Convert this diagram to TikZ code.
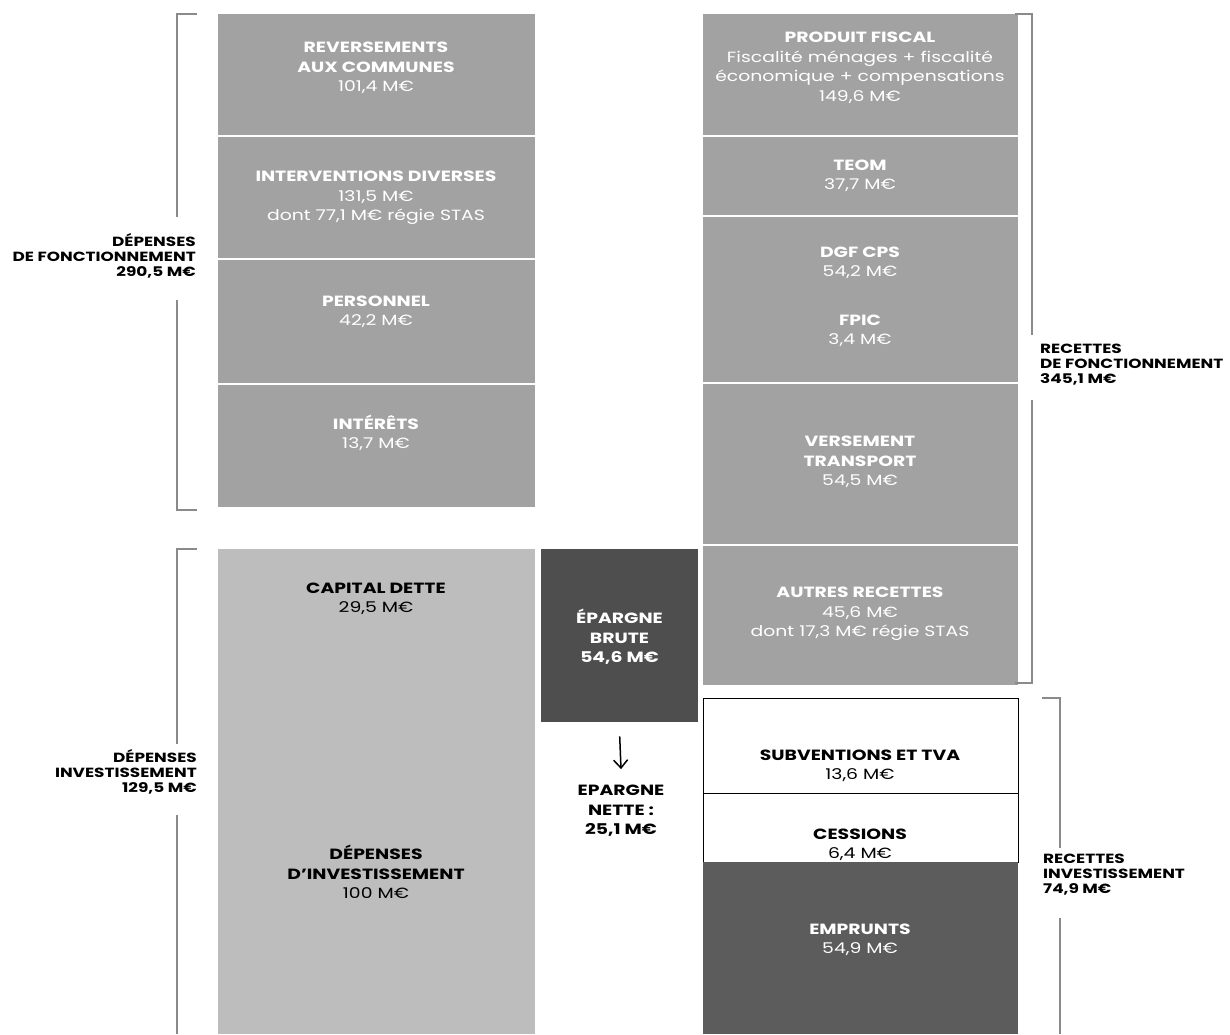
\documentclass[tikz,border=0pt]{standalone}
\usepackage{fontspec}
\setmainfont{Poppins}[FakeStretch=1.27]
\usetikzlibrary{arrows.meta}
\definecolor{gfonc}{HTML}{A2A2A2}
\definecolor{ginv}{HTML}{BDBDBD}
\definecolor{gdark}{HTML}{4E4E4E}
\definecolor{gemp}{HTML}{5C5C5C}
\definecolor{gbrk}{HTML}{8A8A8A}
\begin{document}
\begin{tikzpicture}[x=1pt,y=-1pt,
  blk/.style={draw=none,inner sep=0pt,anchor=north west},
  wbox/.style={draw=black,line width=0.8pt,fill=white,inner sep=0pt,anchor=north west},
  tw/.style={text=white,align=center,font=\fontsize{14.8}{19.5}\selectfont,inner sep=0pt},
  tb/.style={text=black,align=center,font=\fontsize{14.8}{19.5}\selectfont,inner sep=0pt},
  lab/.style={text=black,font=\fontsize{13.3}{15}\selectfont\bfseries,inner sep=0pt},
  brk/.style={draw=gbrk,line width=1.1pt}]
\useasboundingbox (0,0) rectangle (1230,1034);
% ---- left column: fonctionnement
\node[blk,fill=gfonc,minimum width=317pt,minimum height=121pt] (rev) at (218,14) {};
\node[blk,fill=gfonc,minimum width=317pt,minimum height=121pt] (int) at (218,137) {};
\node[blk,fill=gfonc,minimum width=317pt,minimum height=123pt] (per) at (218,260) {};
\node[blk,fill=gfonc,minimum width=317pt,minimum height=122pt] (itr) at (218,385) {};
\node[tw] (trev) at (376,68) {\textbf{REVERSEMENTS}\\\textbf{AUX COMMUNES}\\101,4 M€};
\node[tw] (tint) at (376,198) {\textbf{INTERVENTIONS DIVERSES}\\131,5 M€\\dont 77,1 M€ régie STAS};
\node[tw] (tper) at (376,312) {\textbf{PERSONNEL}\\42,2 M€};
\node[tw] (titr) at (376,433) {\textbf{INTÉRÊTS}\\13,7 M€};
% ---- left column: investissement
\node[blk,fill=ginv,minimum width=317pt,minimum height=112pt] (cap) at (218,549) {};
\node[blk,fill=ginv,minimum width=317pt,minimum height=374pt] (dep) at (218,660) {};
\node[tb] (tcap) at (376,599) {\textbf{CAPITAL DETTE}\\29,5 M€};
\node[tb] (tdep) at (376,872) {\textbf{DÉPENSES}\\\textbf{D’INVESTISSEMENT}\\100 M€};
% ---- epargne
\node[blk,fill=gdark,minimum width=157pt,minimum height=173pt] (eb) at (541,549) {};
\node[tw] (teb) at (619.5,637) {\textbf{ÉPARGNE}\\\textbf{BRUTE}\\\textbf{54,6 M€}};
\node[tb] (ten) at (621,811) {\textbf{EPARGNE}\\\textbf{NETTE :}\\\textbf{25,1 M€}};
\draw[line width=1.5pt,-{Straight Barb[length=8pt,width=14pt]}] ([yshift=-14pt]eb.south) -- ([yshift=16pt]ten.north);
% ---- right column: recettes fonctionnement
\node[blk,fill=gfonc,minimum width=315pt,minimum height=121pt] (prod) at (703,14) {};
\node[blk,fill=gfonc,minimum width=315pt,minimum height=78pt] (teom) at (703,137) {};
\node[blk,fill=gfonc,minimum width=315pt,minimum height=165pt] (dgf) at (703,217) {};
\node[blk,fill=gfonc,minimum width=315pt,minimum height=160pt] (vt) at (703,384) {};
\node[blk,fill=gfonc,minimum width=315pt,minimum height=139pt] (aut) at (703,546) {};
\node[tw] (tprod) at (860,68) {\textbf{PRODUIT FISCAL}\\Fiscalité ménages + fiscalité\\économique + compensations\\149,6 M€};
\node[tw] (tteom) at (860,176) {\textbf{TEOM}\\37,7 M€};
\node[tw] (tdgf) at (860,263) {\textbf{DGF CPS}\\54,2 M€};
\node[tw] (tfpic) at (860,331) {\textbf{FPIC}\\3,4 M€};
\node[tw] (tvt) at (860,462) {\textbf{VERSEMENT}\\\textbf{TRANSPORT}\\54,5 M€};
\node[tw] (taut) at (860,614) {\textbf{AUTRES RECETTES}\\45,6 M€\\dont 17,3 M€ régie STAS};
% ---- right column: recettes investissement
\node[wbox,minimum width=315pt,minimum height=95pt] (sub) at (703,698) {};
\node[wbox,minimum width=315pt,minimum height=69pt] (ces) at (703,793) {};
\node[blk,fill=gemp,minimum width=315pt,minimum height=172pt] (emp) at (703,862) {};
\node[tb] (tsub) at (860,766) {\textbf{SUBVENTIONS ET TVA}\\13,6 M€};
\node[tb] (tces) at (860,845) {\textbf{CESSIONS}\\6,4 M€};
\node[tw] (temp) at (860,940) {\textbf{EMPRUNTS}\\54,9 M€};
% ---- brackets and labels
\node[lab,align=right,anchor=east] (ldf) at (196,256) {DÉPENSES\\DE FONCTIONNEMENT\\290,5 M€};
\node[lab,align=right,anchor=east] (ldi) at (197,772) {DÉPENSES\\INVESTISSEMENT\\129,5 M€};
\node[lab,align=left,anchor=west] (lrf) at (1040,365) {RECETTES\\DE FONCTIONNEMENT\\345,1 M€};
\node[lab,align=left,anchor=west] (lri) at (1043,875) {RECETTES\\INVESTISSEMENT\\74,9 M€};
\coordinate (b1a) at (197,14); \coordinate (b1b) at (197,510);
\draw[brk] (b1a) -- (177,14) -- (177,217);
\draw[brk] (177,300) -- (177,510) -- (b1b);
\coordinate (b2a) at (197,549);
\draw[brk] (b2a) -- (177,549) -- (177,744);
\draw[brk] (177,815) -- (177,1034);
\coordinate (b3a) at (1015,14); \coordinate (b3b) at (1015,683);
\draw[brk] (b3a) -- (1032,14) -- (1032,335);
\draw[brk] (1032,400) -- (1032,683) -- (b3b);
\coordinate (b4a) at (1042,698);
\draw[brk] (b4a) -- (1060,698) -- (1060,848);
\draw[brk] (1060,918) -- (1060,1034);
\end{tikzpicture}
\end{document}
